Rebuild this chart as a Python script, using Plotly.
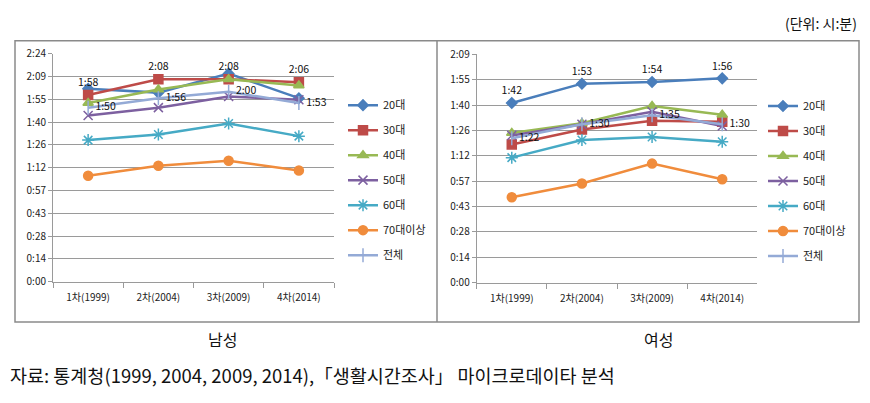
import plotly.graph_objects as go

W, H = 870, 403

categories = ["1차(1999)", "2차(2004)", "3차(2009)", "4차(2014)"]
series_names = ["20대", "30대", "40대", "50대", "60대", "70대이상", "전체"]

# minutes
male = {
    "20대": [122, 119.5, 131.5, 116],
    "30대": [118, 128, 128, 126],
    "40대": [113, 121.5, 128, 124],
    "50대": [105, 110, 117, 115],
    "60대": [89.5, 93, 100, 92],
    "70대이상": [67, 73.3, 76.4, 70.3],
    "전체": [110, 116, 120, 113],
}
female = {
    "20대": [102, 113, 114, 116],
    "30대": [78.5, 87, 92, 91.4],
    "40대": [85, 90.5, 100.3, 95.4],
    "50대": [83.6, 90, 97, 89],
    "60대": [71, 81, 82.7, 80],
    "70대이상": [48.5, 56.3, 67.6, 58.7],
    "전체": [82, 90, 95, 90],
}

male_ytick_vals = [0, 14.4, 28.8, 43.2, 57.6, 72, 86.4, 100.8, 115.2, 129.6, 144]
male_ytick_text = ["0:00", "0:14", "0:28", "0:43", "0:57", "1:12", "1:26", "1:40", "1:55", "2:09", "2:24"]
female_ytick_vals = male_ytick_vals[:10]
female_ytick_text = male_ytick_text[:10]

panel_titles = ["남성", "여성"]
unit_text = "(단위: 시:분)"
source_text = "자료: 통계청(1999, 2004, 2009, 2014),「생활시간조사」 마이크로데이타 분석"

colors = {
    "20대": "#4a7ebb",
    "30대": "#be4b48",
    "40대": "#98b954",
    "50대": "#7d60a0",
    "60대": "#46aac5",
    "70대이상": "#f08c3c",
    "전체": "#94aad6",
}
symbols = {
    "20대": ("diamond", 8),
    "30대": ("square", 9),
    "40대": ("triangle-up", 9),
    "50대": ("x-thin-open", 9),
    "60대": ("asterisk-open", 10),
    "70대이상": ("circle", 9),
    "전체": ("line-ns-open", 10),
}

def fmt(v):
    m = int(round(v))
    return f"{m // 60}:{m % 60:02d}"

FONT = "Noto Sans CJK KR, Noto Sans, sans-serif"

fig = go.Figure()

label_top = {"x": "30대", "x2": "20대"}

for data, xa, ya, leg in [(male, "x", "y", "legend"), (female, "x2", "y2", "legend2")]:
    for name in series_names:
        vals = data[name]
        sym, sz = symbols[name]
        text = None
        tpos = None
        mode = "lines+markers"
        if name == label_top[xa]:
            text = [fmt(v) for v in vals]
            tpos = "top center"
            mode = "lines+markers+text"
        elif name == "전체":
            text = [fmt(v) for v in vals]
            tpos = "middle right"
            mode = "lines+markers+text"
        fig.add_trace(go.Scatter(
            x=categories, y=vals, name=name, mode=mode,
            xaxis=xa, yaxis=ya, legend=leg, legendgroup=name + xa,
            line=dict(color=colors[name], width=2.5),
            marker=dict(symbol=sym, size=sz, color=colors[name],
                        line=dict(color=colors[name], width=1.5)),
            text=text, textposition=tpos,
            textfont=dict(family=FONT, size=10.5, color="#111111"),
            cliponaxis=False,
        ))

def px_x(p):
    return p / W

def px_y(p):
    return 1 - p / H

grid = "#9a9a9a"
axcommon_x = dict(type="category", range=[-0.5, 3.5], showgrid=False,
                  showline=True, linecolor=grid, linewidth=1,
                  ticks="outside", tickson="boundaries", ticklen=5, tickcolor=grid,
                  tickfont=dict(family=FONT, size=10, color="#222222"),
                  ticklabelstandoff=6, fixedrange=True)
axcommon_y = dict(showgrid=True, gridcolor=grid, gridwidth=1,
                  showline=True, linecolor=grid, linewidth=1,
                  ticks="outside", ticklen=4, tickcolor=grid,
                  tickfont=dict(family=FONT, size=10, color="#222222"),
                  zeroline=False, fixedrange=True)

fig.update_layout(
    width=W, height=H,
    margin=dict(l=0, r=0, t=0, b=0),
    paper_bgcolor="white", plot_bgcolor="white",
    font=dict(family=FONT),
    xaxis=dict(domain=[px_x(53), px_x(334)], anchor="y", **axcommon_x),
    yaxis=dict(domain=[px_y(284), px_y(46.7)], anchor="x", range=[0, 144],
               tickvals=male_ytick_vals, ticktext=male_ytick_text, **axcommon_y),
    xaxis2=dict(domain=[px_x(476.7), px_x(757.3)], anchor="y2", **axcommon_x),
    yaxis2=dict(domain=[px_y(285), px_y(47.3)], anchor="x2", range=[0, 129.6],
                tickvals=female_ytick_vals, ticktext=female_ytick_text, **axcommon_y),
    legend=dict(x=px_x(343), y=px_y(85), xanchor="left", yanchor="top",
                font=dict(family=FONT, size=11, color="#222222"),
                tracegroupgap=6, bgcolor="rgba(0,0,0,0)", itemwidth=30),
    legend2=dict(x=px_x(763), y=px_y(86), xanchor="left", yanchor="top",
                 font=dict(family=FONT, size=11, color="#222222"),
                 tracegroupgap=6, bgcolor="rgba(0,0,0,0)", itemwidth=30),
    showlegend=True,
)

fig.add_shape(type="rect", xref="paper", yref="paper",
              x0=px_x(15), x1=px_x(859), y0=px_y(326), y1=px_y(33),
              line=dict(color="#8a8a8a", width=1.5))
fig.add_shape(type="line", xref="paper", yref="paper",
              x0=px_x(437), x1=px_x(437), y0=px_y(326), y1=px_y(33),
              line=dict(color="#8a8a8a", width=1.5))

fig.add_annotation(text=panel_titles[0], xref="paper", yref="paper",
                   x=px_x(222), y=px_y(344), xanchor="center", yanchor="middle",
                   showarrow=False, font=dict(family=FONT, size=16, color="#111111"))
fig.add_annotation(text=panel_titles[1], xref="paper", yref="paper",
                   x=px_x(658), y=px_y(344), xanchor="center", yanchor="middle",
                   showarrow=False, font=dict(family=FONT, size=16, color="#111111"))
fig.add_annotation(text=unit_text, xref="paper", yref="paper",
                   x=px_x(859), y=px_y(15), xanchor="right", yanchor="middle",
                   showarrow=False, font=dict(family=FONT, size=14, color="#111111"))
fig.add_annotation(text=source_text, xref="paper", yref="paper",
                   x=px_x(8), y=px_y(381), xanchor="left", yanchor="middle",
                   showarrow=False, font=dict(family=FONT, size=18.5, color="#111111"))

fig.write_html("out.html")
